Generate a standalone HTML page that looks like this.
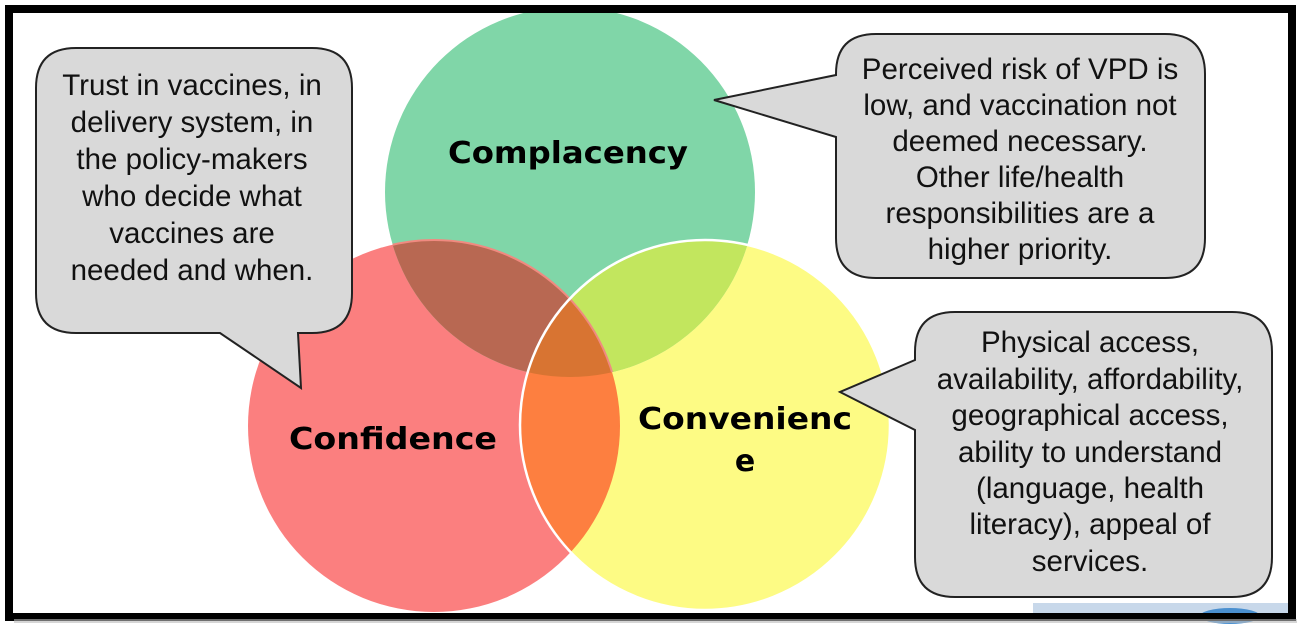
<!DOCTYPE html>
<html><head><meta charset="utf-8"><style>
html,body{margin:0;padding:0;background:#fff;}
svg{display:block;}
.t{font-family:"Liberation Sans",Arial,sans-serif;font-size:29.5px;fill:#111;text-anchor:middle;}
.b{font-family:"DejaVu Sans",Verdana,sans-serif;font-weight:bold;font-size:30px;fill:#000;text-anchor:middle;}
</style></head><body>
<svg width="1304" height="636" viewBox="0 0 1304 636" xmlns="http://www.w3.org/2000/svg">
<defs>
<clipPath id="cg"><circle cx="570" cy="192" r="185"/></clipPath>
<clipPath id="cr"><circle cx="434" cy="426" r="186"/></clipPath>
<clipPath id="cy"><circle cx="705" cy="425" r="185"/></clipPath>
</defs>
<rect x="0" y="0" width="1304" height="636" fill="#fff"/>
<rect x="1033" y="603" width="257" height="12" fill="#c8d8ea"/>
<ellipse cx="1230" cy="616" rx="30" ry="8" fill="#4a90d0"/>
<circle cx="434" cy="426" r="186" fill="#fb7f7f"/>
<circle cx="705" cy="425" r="185" fill="#fdfb84"/>
<circle cx="570" cy="192" r="185" fill="#80d6a8"/>
<g clip-path="url(#cg)"><circle cx="434" cy="426" r="186" fill="#b86852"/><circle cx="705" cy="425" r="185" fill="#c2e65e"/></g>
<g clip-path="url(#cr)"><circle cx="705" cy="425" r="185" fill="#fd7f40"/></g>
<g clip-path="url(#cr)"><g clip-path="url(#cg)"><circle cx="705" cy="425" r="185" fill="#d87432"/></g></g>
<g clip-path="url(#cg)"><circle cx="434" cy="426" r="186" fill="none" stroke="#f08a80" stroke-width="2"/></g>
<circle cx="705" cy="425" r="185" fill="none" stroke="#fff" stroke-width="2.5"/>
<path d="M76,48 H312 Q352,48 352,88 V293 Q352,333 312,333 H298 L301,388 L220,333 H76 Q36,333 36,293 V88 Q36,48 76,48 Z" fill="#d9d9d9" stroke="#222" stroke-width="2"/>
<path d="M876,34 H1165 Q1205,34 1205,74 V238 Q1205,278 1165,278 H876 Q836,278 836,238 V137 L714,100 L836,75 V74 Q836,34 876,34 Z" fill="#d9d9d9" stroke="#222" stroke-width="2"/>
<path d="M955,312 H1232 Q1272,312 1272,352 V557 Q1272,597 1232,597 H955 Q915,597 915,557 V430 L840,392 L915,360 V352 Q915,312 955,312 Z" fill="#d9d9d9" stroke="#222" stroke-width="2"/>
<g class="t">
<text x="192" y="95">Trust in vaccines, in</text>
<text x="192" y="132">delivery system,  in</text>
<text x="192" y="169">the policy-makers</text>
<text x="192" y="206">who decide what</text>
<text x="192" y="243">vaccines are</text>
<text x="192" y="280">needed and when.</text>
<text x="1020" y="79">Perceived risk of VPD is</text>
<text x="1020" y="115">low, and vaccination not</text>
<text x="1020" y="151">deemed necessary.</text>
<text x="1020" y="187">Other life/health</text>
<text x="1020" y="223">responsibilities are a</text>
<text x="1020" y="259">higher priority.</text>
<text x="1090" y="352">Physical access,</text>
<text x="1090" y="389">availability, affordability,</text>
<text x="1090" y="425">geographical access,</text>
<text x="1090" y="462">ability to understand</text>
<text x="1090" y="498">(language, health</text>
<text x="1090" y="534">literacy), appeal of</text>
<text x="1090" y="571">services.</text>
</g>
<g class="b">
<text x="568" y="163" textLength="240" lengthAdjust="spacingAndGlyphs">Complacency</text>
<text x="393" y="449" textLength="208" lengthAdjust="spacingAndGlyphs">Confidence</text>
<text x="745" y="429" textLength="214" lengthAdjust="spacingAndGlyphs">Convenienc</text>
<text x="745" y="471">e</text>
</g>
<rect x="9" y="9" width="1283" height="608" fill="none" stroke="#000" stroke-width="8"/>
<rect x="14" y="619" width="1283" height="4" fill="#bbb" opacity="0.6"/>
</svg>
</body></html>
